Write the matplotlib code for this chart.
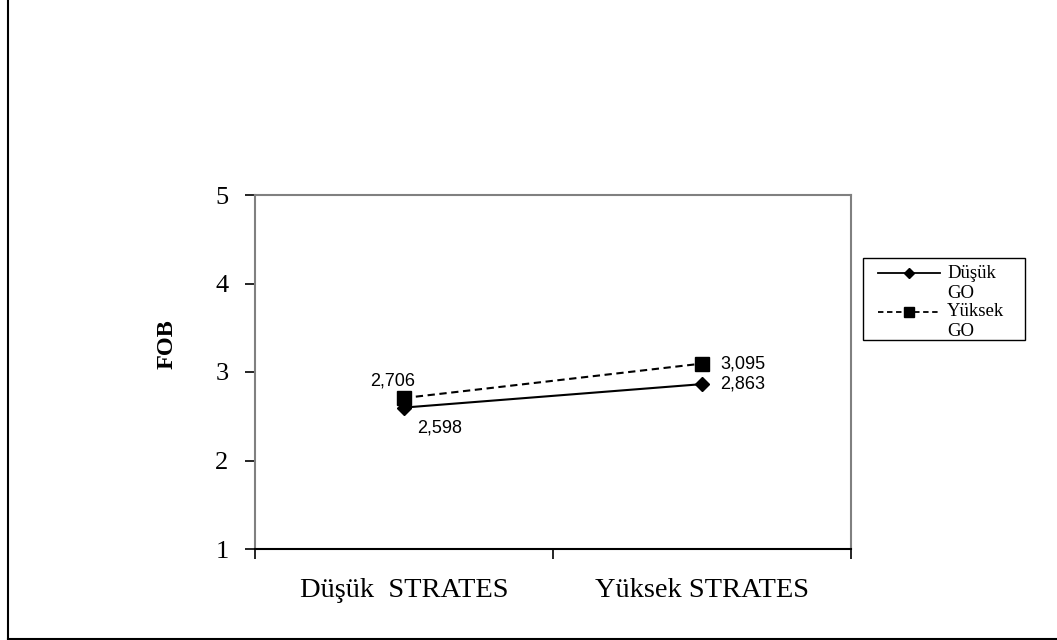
import matplotlib.pyplot as plt
from matplotlib.lines import Line2D
from matplotlib.patches import Rectangle

categories = ["Düşük  STRATES", "Yüksek STRATES"]
dusuk_go = [2.598, 2.863]
yuksek_go = [2.706, 3.095]
dusuk_labels = ["2,598", "2,863"]
yuksek_labels = ["2,706", "3,095"]
y_ticks = [1, 2, 3, 4, 5]

serif = "Liberation Serif"
sans = "Liberation Sans"

fig = plt.figure(figsize=(10.57, 6.4), dpi=100)
ax = fig.add_axes([255 / 1057, 1 - 549 / 640, (851 - 255) / 1057, (549 - 195) / 640])

x = [0.5, 1.5]
ax.plot(x, dusuk_go, color="black", linestyle="-", linewidth=1.5,
        marker="D", markersize=7.5, zorder=3)
ax.plot(x, yuksek_go, color="black", linestyle=(0, (3.5, 2.2)), linewidth=1.5,
        marker="s", markersize=9.5, zorder=3)

# data labels
ax.annotate(yuksek_labels[0], (x[0], yuksek_go[0]), xytext=(-8, 12),
            textcoords="offset points", ha="center", va="center",
            fontsize=13, family=sans)
ax.annotate(dusuk_labels[0], (x[0], dusuk_go[0]), xytext=(26, -15),
            textcoords="offset points", ha="center", va="center",
            fontsize=13, family=sans)
ax.annotate(yuksek_labels[1], (x[1], yuksek_go[1]), xytext=(13, 0),
            textcoords="offset points", ha="left", va="center",
            fontsize=13, family=sans)
ax.annotate(dusuk_labels[1], (x[1], dusuk_go[1]), xytext=(13, 0),
            textcoords="offset points", ha="left", va="center",
            fontsize=13, family=sans)

ax.set_xlim(0, 2)
ax.set_ylim(1, 5)
ax.set_yticks(y_ticks)
ax.set_yticklabels([str(t) for t in y_ticks], fontsize=19, family=serif)
ax.set_xticks(x)
ax.set_xticklabels(categories, fontsize=20.5, family=serif)
ax.set_xticks([0, 1, 2], minor=True)
ax.tick_params(axis="x", which="major", length=0, pad=21)
ax.tick_params(axis="x", which="minor", length=7, width=1.2, direction="out")
ax.tick_params(axis="y", length=7, width=1.2, direction="out", pad=12)

ax.set_ylabel("FOB", fontsize=17.5, fontweight="bold", family=serif)
ax.yaxis.set_label_coords(-0.13, 0.58)

for side in ["left", "top", "right"]:
    ax.spines[side].set_color("#808080")
    ax.spines[side].set_linewidth(1.5)
ax.spines["bottom"].set_color("black")
ax.spines["bottom"].set_linewidth(1.5)

# legend drawn by hand to keep the two-line labels
W, H = 1057, 640


def fx(px):
    return px / W


def fy(py):
    return 1 - py / H


fig.patches.append(Rectangle((fx(863), fy(340)), fx(1025) - fx(863), fy(258) - fy(340),
                             transform=fig.transFigure, fill=False,
                             edgecolor="black", linewidth=1.0))
rows = [(273, 293, "-", "D", 5.5, "Düşük"), (312, 331, (0, (3, 2)), "s", 7, "Yüksek")]
for y1, y2, ls, mk, ms, name in rows:
    fig.lines.append(Line2D([fx(878), fx(940)], [fy(y1), fy(y1)], color="black",
                            linestyle=ls, linewidth=1.3, transform=fig.transFigure))
    fig.lines.append(Line2D([fx(909)], [fy(y1)], color="black", marker=mk,
                            markersize=ms, transform=fig.transFigure))
    fig.text(fx(947), fy(y1), name, fontsize=13.5, family=serif, va="center")
    fig.text(fx(947), fy(y2), "GO", fontsize=13.5, family=serif, va="center")

# outer frame (left and bottom visible)
fig.lines.append(Line2D([fx(7.5), fx(7.5)], [0, 1], color="black", linewidth=1.5,
                        transform=fig.transFigure))
fig.lines.append(Line2D([fx(7.5), 1], [fy(638.5), fy(638.5)], color="black",
                        linewidth=1.5, transform=fig.transFigure))

fig.savefig("out.png", dpi=100)
